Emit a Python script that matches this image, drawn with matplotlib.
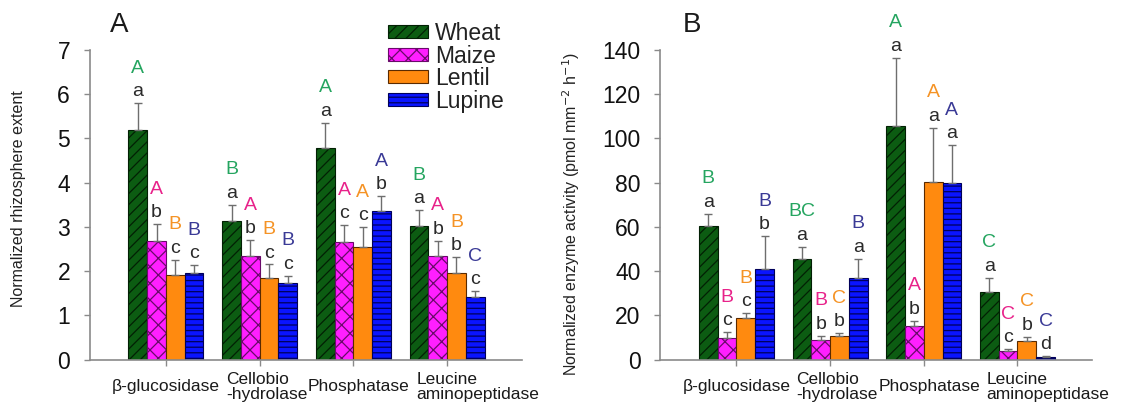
import numpy as np
import matplotlib
matplotlib.use("Agg")
import matplotlib.pyplot as plt

plt.rcParams['font.family'] = ['Liberation Sans', 'DejaVu Sans']
plt.rcParams['hatch.linewidth'] = 0.9

# ---- data -------------------------------------------------------------
enzymes = ["β-glucosidase", "Cellobio\n-hydrolase", "Phosphatase", "Leucine\naminopeptidase"]
crops = ["Wheat", "Maize", "Lentil", "Lupine"]

# Panel A: normalized rhizosphere extent (mean, SE)
extent_wheat = [5.19, 3.14, 4.78, 3.02]
extent_maize = [2.67, 2.35, 2.66, 2.34]
extent_lentil = [1.92, 1.84, 2.54, 1.96]
extent_lupine = [1.95, 1.72, 3.35, 1.42]
extent_err_wheat = [0.61, 0.36, 0.57, 0.36]
extent_err_maize = [0.39, 0.35, 0.38, 0.35]
extent_err_lentil = [0.34, 0.31, 0.45, 0.35]
extent_err_lupine = [0.18, 0.17, 0.34, 0.12]

# Panel B: normalized enzyme activity (mean, SE)
activity_wheat = [60.3, 45.3, 105.8, 30.5]
activity_maize = [9.9, 8.8, 15.3, 4.0]
activity_lentil = [18.6, 10.8, 80.1, 8.2]
activity_lupine = [41.1, 37.0, 80.0, 1.1]
activity_err_wheat = [5.7, 5.7, 30.7, 6.5]
activity_err_maize = [2.4, 2.0, 2.2, 0.6]
activity_err_lentil = [2.3, 1.1, 24.8, 2.1]
activity_err_lupine = [14.7, 8.6, 17.0, 0.3]

# significance letters: lowercase = between crops, uppercase = between enzymes
extent_lower = [["a", "a", "a", "a"], ["b", "b", "c", "b"], ["c", "c", "c", "b"], ["c", "c", "b", "c"]]
extent_upper = [["A", "B", "A", "B"], ["A", "A", "A", "A"], ["B", "B", "A", "B"], ["B", "B", "A", "C"]]
activity_lower = [["a", "a", "a", "a"], ["c", "b", "b", "c"], ["c", "b", "a", "b"], ["b", "a", "a", "d"]]
activity_upper = [["B", "BC", "A", "C"], ["B", "B", "A", "C"], ["B", "C", "A", "C"], ["B", "B", "A", "C"]]

# ---- styles -----------------------------------------------------------
face_colors = ["#0c5c12", "#ff1fff", "#ff8a0f", "#0a14ff"]
hatch_colors = ["#022004", "#6a0a6a", "#5a2a00", "#00005a"]
hatches = ["///", "xx", "", "---"]
letter_colors = ["#25a560", "#e8228a", "#f59325", "#3a3a96"]
axis_gray = "#8a8a8a"

fig = plt.figure(figsize=(11.26, 4.12), dpi=100)
ax_a = fig.add_axes([0.0795, 0.1274, 0.3841, 0.7512])
ax_b = fig.add_axes([0.5861, 0.1274, 0.3841, 0.7512])

x = np.arange(len(enzymes))
width = 0.2
label_dx = [0, 5, 4, 22]  # horizontal shift of category labels, points


def draw_panel(ax, series, errors, lower, upper, ymax, ystep, ylabel):
    for i, (vals, errs) in enumerate(zip(series, errors)):
        pos = x + (i - 1.5) * width
        ax.bar(pos, vals, width, color=face_colors[i], edgecolor=hatch_colors[i],
               hatch=hatches[i], linewidth=0.8, label=crops[i], zorder=2)
        ax.errorbar(pos, vals, yerr=[np.zeros(len(vals)), errs], fmt="none",
                    ecolor="#6e6e6e", elinewidth=1.0, capsize=3.2, capthick=1.0, zorder=3)
        for j in range(len(vals)):
            top = vals[j] + errs[j]
            ax.annotate(lower[i][j], (pos[j], top), xytext=(0, 5), textcoords="offset points",
                        ha="center", va="baseline", fontsize=14, color="#2a2a2a", zorder=4)
            ax.annotate(upper[i][j], (pos[j], top), xytext=(0, 22), textcoords="offset points",
                        ha="center", va="baseline", fontsize=14, color=letter_colors[i], zorder=4)

    ax.set_xlim(-0.816, 3.8)
    ax.set_ylim(0, ymax)
    ax.set_yticks(np.arange(0, ymax + ystep / 2, ystep))
    ax.set_xticks(x)
    ax.set_xticklabels([])
    for j, name in enumerate(enzymes):
        ax.annotate(name, (x[j], 0), xytext=(label_dx[j], -19.5), textcoords="offset points",
                    ha="center", va="center", multialignment="left", fontsize=12.5,
                    linespacing=1.0, color="#1a1a1a", annotation_clip=False)
    for side in ("top", "right"):
        ax.spines[side].set_visible(False)
    for side in ("left", "bottom"):
        ax.spines[side].set_color(axis_gray)
        ax.spines[side].set_linewidth(1.2)
    ax.tick_params(axis="y", direction="out", length=4, width=1, color=axis_gray,
                   labelsize=16.5, pad=10, labelcolor="#111111")
    ax.tick_params(axis="x", direction="out", length=4, width=1, color=axis_gray)
    ax.set_ylabel(ylabel, fontsize=11.5, color="#222222")


draw_panel(ax_a,
           [extent_wheat, extent_maize, extent_lentil, extent_lupine],
           [extent_err_wheat, extent_err_maize, extent_err_lentil, extent_err_lupine],
           extent_lower, extent_upper, 7, 1, "Normalized rhizosphere extent")
ax_a.yaxis.set_label_coords(-0.147, 0.52)

draw_panel(ax_b,
           [activity_wheat, activity_maize, activity_lentil, activity_lupine],
           [activity_err_wheat, activity_err_maize, activity_err_lentil, activity_err_lupine],
           activity_lower, activity_upper, 140, 20,
           r"Normalized enzyme activity (pmol mm$^{-2}$ h$^{-1}$)")
ax_b.yaxis.set_label_coords(-0.18, 0.47)

leg = ax_a.legend(loc="upper left", bbox_to_anchor=(388 / 1126, 1 - 22 / 412),
                  bbox_transform=fig.transFigure, frameon=False, fontsize=16.5,
                  handlelength=1.74, handleheight=0.5, handletextpad=0.3,
                  labelspacing=-0.02, borderpad=0, borderaxespad=0)
for t in leg.get_texts():
    t.set_color("#222222")

fig.text(119 / 1126, 1 - 25 / 412, "A", fontsize=20, ha="center", va="center", color="#1a1a1a")
fig.text(692 / 1126, 1 - 25 / 412, "B", fontsize=20, ha="center", va="center", color="#1a1a1a")

fig.savefig("out.png", dpi=100)
